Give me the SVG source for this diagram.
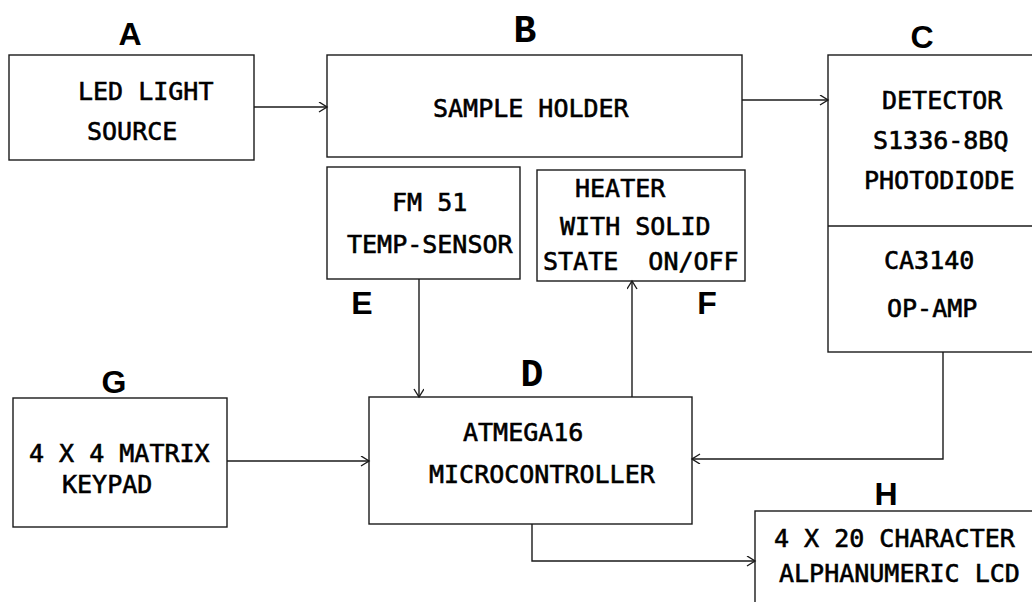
<svg xmlns="http://www.w3.org/2000/svg" width="1032" height="602" viewBox="0 0 1032 602">
<style>
.box{fill:none;stroke:#1a1a1a;stroke-width:1.4}
.t{font-family:"DejaVu Sans Mono","Liberation Mono",monospace;font-size:25px;fill:#000;stroke:#000;stroke-width:0.6;white-space:pre}
.lab{font-family:"Liberation Sans",Arial,sans-serif;font-weight:bold;font-size:32px;fill:#000;text-anchor:middle}
.labs{font-family:"Liberation Mono","Courier New",monospace;font-weight:bold;font-size:38px;fill:#000;text-anchor:middle}
.c{fill:none;stroke:#1a1a1a;stroke-width:1.4}
</style>
<defs>
<marker id="arr" markerUnits="userSpaceOnUse" markerWidth="12" markerHeight="12" refX="9" refY="5" orient="auto">
<path d="M1,0 L9,5 L1,10" fill="none" stroke="#1a1a1a" stroke-width="1.4"/>
</marker>
</defs>
<rect width="1032" height="602" fill="#fff"/>
<g id="nodeA">
<rect class="box" x="9" y="55" width="245" height="105"/>
<text class="t" x="78" y="100">LED LIGHT</text>
<text class="t" x="87" y="140">SOURCE</text>
<text class="lab" x="130" y="45">A</text>
</g>
<g id="nodeB">
<rect class="box" x="327" y="55" width="415" height="102"/>
<text class="t" x="433" y="117">SAMPLE HOLDER</text>
<text class="labs" x="525" y="42">B</text>
</g>
<g id="nodeC">
<rect class="box" x="828" y="55" width="220" height="297"/>
<line class="box" x1="828" y1="226" x2="1040" y2="226"/>
<text class="t" x="882" y="109">DETECTOR</text>
<text class="t" x="873" y="149">S1336-8BQ</text>
<text class="t" x="864" y="189">PHOTODIODE</text>
<text class="t" x="884" y="269">CA3140</text>
<text class="t" x="887" y="317">OP-AMP</text>
<text class="lab" x="922" y="48">C</text>
</g>
<g id="nodeE">
<rect class="box" x="327" y="167" width="193" height="112"/>
<text class="t" x="392" y="211">FM 51</text>
<text class="t" x="347" y="253">TEMP-SENSOR</text>
<text class="lab" x="362" y="314">E</text>
</g>
<g id="nodeF">
<rect class="box" x="537" y="170" width="208" height="111"/>
<text class="t" x="575" y="197">HEATER</text>
<text class="t" x="560" y="235">WITH SOLID</text>
<text class="t" x="543" y="270">STATE  ON/OFF</text>
<text class="lab" x="707" y="314">F</text>
</g>
<g id="nodeD">
<rect class="box" x="369" y="397" width="323" height="127"/>
<text class="t" x="463" y="441">ATMEGA16</text>
<text class="t" x="429" y="483">MICROCONTROLLER</text>
<text class="labs" x="532" y="386">D</text>
</g>
<g id="nodeG">
<rect class="box" x="13" y="398" width="214" height="129"/>
<text class="t" x="29" y="462">4 X 4 MATRIX</text>
<text class="t" x="62" y="493">KEYPAD</text>
<text class="lab" x="114" y="393">G</text>
</g>
<g id="nodeH">
<rect class="box" x="755" y="511" width="290" height="100"/>
<text class="t" x="774" y="547">4 X 20 CHARACTER</text>
<text class="t" x="779" y="582">ALPHANUMERIC LCD</text>
<text class="lab" x="886" y="505">H</text>
</g>
<g id="connectors">
<line class="c" x1="254" y1="107" x2="327" y2="107" marker-end="url(#arr)"/>
<line class="c" x1="742" y1="100" x2="828" y2="100" marker-end="url(#arr)"/>
<line class="c" x1="419" y1="279" x2="419" y2="397" marker-end="url(#arr)"/>
<line class="c" x1="632" y1="397" x2="632" y2="281" marker-end="url(#arr)"/>
<polyline class="c" points="943,352 943,459 692,459" marker-end="url(#arr)"/>
<line class="c" x1="227" y1="461" x2="369" y2="461" marker-end="url(#arr)"/>
<polyline class="c" points="532,524 532,561 755,561" marker-end="url(#arr)"/>
</g>
</svg>
